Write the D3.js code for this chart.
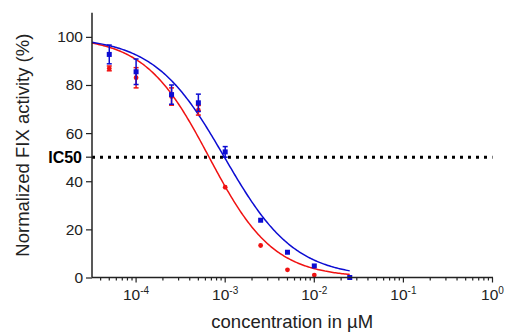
<!DOCTYPE html>
<html>
<head>
<meta charset="utf-8">
<script src="https://cdn.jsdelivr.net/npm/d3@7"></script>
<style>
  body { margin: 0; background: #fff; }
  svg { display: block; font-family: Arial, "Liberation Sans", sans-serif; }
</style>
</head>
<body>
<svg id="chart" width="508" height="333"></svg>
<script>
// concentrations (µM)
const concentrations = [5e-5, 1e-4, 2.5e-4, 5e-4, 1e-3, 2.5e-3, 5e-3, 1e-2, 2.5e-2];

// blue series (mean, sd)
const blueMean = [92.7, 85.5, 76.0, 72.6, 52.2, 23.8, 10.5, 4.8, 0];
const blueErr  = [3.9, 5.3, 4.0, 3.6, 2.2, 0.6, 0, 0, 0];
// red series
const redMean  = [86.9, 83.0, 75.2, 69.5, 37.5, 13.3, 3.2, 1.0, 0];
const redErr   = [1.0, 4.2, 3.6, 2.0, 0.5, 0, 0, 0, 0];

// dose-response fit parameters (top, bottom, IC50, hill)
const blueFit = { top: 100, bottom: 0, ic50: 9.8e-4, hill: 1.1 };
const redFit  = { top: 100, bottom: 0, ic50: 6.6e-4, hill: 1.2 };

const xTicks = [1e-4, 1e-3, 1e-2, 1e-1, 1];
const xTickExp = ['-4', '-3', '-2', '-1', '0'];
const yTicks = [0, 20, 40, 60, 80, 100];
const ic50Level = 50;

const BLUE = '#0c0cd2';
const RED = '#f01212';

const svg = d3.select('#chart');
const plotLeft = 92, plotRight = 492.5, plotTop = 12.8, plotBottom = 277.5;

const x = d3.scaleLog().domain([3.2e-5, 1]).range([plotLeft, plotRight]);
const y = d3.scaleLinear().domain([0, 110]).range([plotBottom, plotTop]);

// IC50 dotted line
svg.append('line')
  .attr('x1', plotLeft).attr('x2', plotRight)
  .attr('y1', y(ic50Level)).attr('y2', y(ic50Level))
  .attr('stroke', '#000')
  .attr('stroke-width', 3)
  .attr('stroke-dasharray', '3 5');

// Fitted curves
function fitLine(p) {
  const lo = Math.log10(x.domain()[0]);
  const hi = Math.log10(concentrations[concentrations.length - 1]);
  return d3.range(0, 201).map(i => {
    const c = Math.pow(10, lo + (hi - lo) * i / 200);
    return [c, p.bottom + (p.top - p.bottom) / (1 + Math.pow(c / p.ic50, p.hill))];
  });
}
const line = d3.line().x(d => x(d[0])).y(d => y(d[1]));

svg.append('path').attr('d', line(fitLine(redFit)))
  .attr('fill', 'none').attr('stroke', RED).attr('stroke-width', 1.5);
svg.append('path').attr('d', line(fitLine(blueFit)))
  .attr('fill', 'none').attr('stroke', BLUE).attr('stroke-width', 1.5);

// Error bars + markers
function drawSeries(means, errs, color, shape) {
  const g = svg.append('g');
  concentrations.forEach((c, i) => {
    const cx = x(c);
    if (errs[i] > 0.8) {
      const y1 = y(means[i] + errs[i]), y2 = y(means[i] - errs[i]);
      g.append('line').attr('x1', cx).attr('x2', cx).attr('y1', y1).attr('y2', y2)
        .attr('stroke', color).attr('stroke-width', 1.5);
      [y1, y2].forEach(yy => g.append('line')
        .attr('x1', cx - 2.5).attr('x2', cx + 2.5).attr('y1', yy).attr('y2', yy)
        .attr('stroke', color).attr('stroke-width', 1.5));
    }
    if (shape === 'square') {
      g.append('rect').attr('x', cx - 2.5).attr('y', y(means[i]) - 2.5)
        .attr('width', 5).attr('height', 5).attr('fill', color);
    } else {
      g.append('circle').attr('cx', cx).attr('cy', y(means[i])).attr('r', 2.4).attr('fill', color);
    }
  });
}
drawSeries(redMean, redErr, RED, 'circle');
drawSeries(blueMean, blueErr, BLUE, 'square');

// X axis (log, with minor ticks)
const minorTicks = [];
for (let e = -5; e < 0; e++) {
  for (let m = 1; m < 10; m++) {
    const v = m * Math.pow(10, e);
    if (v >= x.domain()[0] && v <= 1) minorTicks.push(v);
  }
}
minorTicks.push(1);

const xAxisG = svg.append('g').attr('transform', `translate(0,${plotBottom})`);
xAxisG.append('line').attr('x1', plotLeft).attr('x2', plotRight + 0.5)
  .attr('stroke', '#222').attr('stroke-width', 1.5);
xAxisG.selectAll('line.tick').data(minorTicks).enter().append('line')
  .attr('class', 'tick')
  .attr('x1', d => x(d)).attr('x2', d => x(d))
  .attr('y1', 0)
  .attr('y2', d => xTicks.some(t => Math.abs(t - d) / t < 1e-9) ? 5 : 3)
  .attr('stroke', '#222').attr('stroke-width', 1.2);

xTicks.forEach((t, i) => {
  const txt = xAxisG.append('text')
    .attr('x', x(t)).attr('y', 22)
    .attr('text-anchor', 'middle')
    .attr('font-size', 15.5)
    .attr('fill', '#222');
  txt.append('tspan').text('10');
  txt.append('tspan').attr('font-size', 10).attr('dy', -6).text(xTickExp[i]);
});

// Y axis
const yAxis = d3.axisLeft(y).tickValues(yTicks).tickSize(6).tickPadding(3);
const yAxisG = svg.append('g').attr('transform', `translate(${plotLeft},0)`).call(yAxis);
yAxisG.select('.domain').attr('stroke', '#222').attr('stroke-width', 1.5)
  .attr('d', `M0,${plotTop}V${plotBottom}`);
yAxisG.selectAll('.tick line').attr('stroke', '#222').attr('stroke-width', 1.2);
yAxisG.selectAll('.tick text').attr('font-size', 15.5).attr('fill', '#222')
  .attr('font-family', 'Arial, "Liberation Sans", sans-serif');

// IC50 tick + label
svg.append('line').attr('x1', plotLeft - 6).attr('x2', plotLeft)
  .attr('y1', y(ic50Level)).attr('y2', y(ic50Level))
  .attr('stroke', '#222').attr('stroke-width', 1.2);
svg.append('text')
  .attr('x', plotLeft - 10).attr('y', y(ic50Level)).attr('dy', '0.35em')
  .attr('text-anchor', 'end')
  .attr('font-size', 16).attr('font-weight', 'bold').attr('fill', '#000')
  .text('IC50');

// Axis titles
svg.append('text')
  .attr('transform', `translate(29,${(plotTop + plotBottom) / 2}) rotate(-90)`)
  .attr('text-anchor', 'middle')
  .attr('font-size', 18.5).attr('fill', '#222')
  .text('Normalized FIX activity (%)');

svg.append('text')
  .attr('x', (plotLeft + plotRight) / 2).attr('y', 328)
  .attr('text-anchor', 'middle')
  .attr('font-size', 18.5).attr('fill', '#222')
  .text('concentration in µM');
</script>
</body>
</html>
